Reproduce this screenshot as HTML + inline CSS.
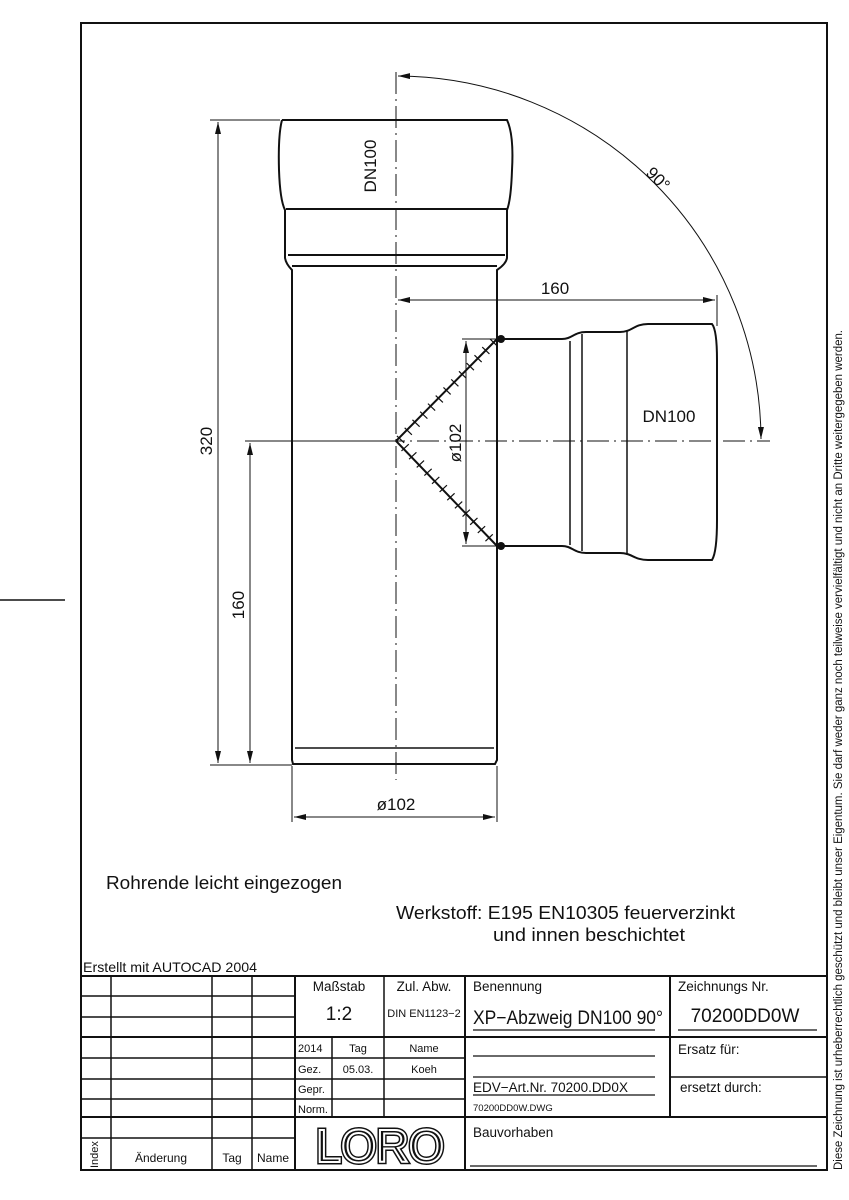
<!DOCTYPE html>
<html><head><meta charset="utf-8"><style>
html,body{margin:0;padding:0;background:#fff;}
svg{display:block;}
text{font-family:"Liberation Sans Narrow","Liberation Sans",sans-serif;fill:#111;}
</style></head><body>
<svg width="849" height="1200" viewBox="0 0 849 1200" xmlns="http://www.w3.org/2000/svg">
<defs>
<marker id="a" viewBox="0 0 12 6" refX="12" refY="3" markerWidth="12" markerHeight="6" orient="auto-start-reverse" markerUnits="userSpaceOnUse"><path d="M0,0 L12,3 L0,6 Z" fill="#111"/></marker>
</defs>
<!-- frame -->
<rect x="81" y="23" width="746" height="1147" fill="none" stroke="#111" stroke-width="2"/>
<line x1="0" y1="600" x2="65" y2="600" stroke="#111" stroke-width="1.5"/>
<text transform="translate(842,1170) rotate(-90)" font-size="11.5" textLength="840" lengthAdjust="spacingAndGlyphs">Diese Zeichnung ist urheberrechtlich geschützt und bleibt unser Eigentum. Sie darf weder ganz noch teilweise vervielfältigt und nicht an Dritte weitergegeben werden.</text>

<!-- center lines -->
<g stroke="#111" stroke-width="1" stroke-dasharray="22 5 2 5" fill="none">
<line x1="396" y1="72" x2="396" y2="780"/>
<line x1="383" y1="441" x2="770" y2="441"/>
</g>

<!-- main pipe -->
<g stroke="#111" stroke-width="2" fill="none">
<path d="M282,120 L507,120 Q514,135 512,170 Q511,200 507,210 L507,258 Q506,264 497,270 L497,760 L495,764 L293,764 L292,760 L292,270 Q286,264 285,258 L285,210 Q280,200 279,170 Q278,135 282,120"/>
<line x1="286" y1="209" x2="507" y2="209"/>
<line x1="288" y1="255" x2="505" y2="255"/>
<line x1="292" y1="266" x2="497" y2="266"/>
<line x1="295" y1="748" x2="494" y2="748" stroke-width="1.5"/>
<!-- branch -->
<path d="M497,339 L562,339 C572,339 574,332 586,332 L620,332 C632,332 634,324 648,324 L712,324 Q717,330 717,360 L717,520 Q717,552 712,560 L648,560 C634,560 632,553 620,553 L586,553 C574,553 572,546 562,546 L497,546"/>
<line x1="570" y1="341" x2="570" y2="545" stroke-width="1.5"/>
<line x1="582" y1="334" x2="582" y2="551" stroke-width="1.5"/>
<line x1="627" y1="330" x2="627" y2="555" stroke-width="1.5"/>
<path d="M497,339 L396,441 L497,546"/>
</g>
<g stroke="#111" fill="none" stroke-dasharray="1.2 10">
<path d="M494,342 L399,441 L494,543" stroke-width="10"/>
</g>
<circle cx="501" cy="339" r="4" fill="#111"/>
<circle cx="501" cy="546" r="4" fill="#111"/>

<!-- dimensions -->
<g stroke="#111" stroke-width="1" fill="none">
<line x1="210" y1="120" x2="280" y2="120"/>
<line x1="245" y1="441" x2="394" y2="441"/>
<line x1="210" y1="765" x2="292" y2="765"/>
<line x1="218" y1="122" x2="218" y2="763" marker-start="url(#a)" marker-end="url(#a)"/>
<line x1="250" y1="443" x2="250" y2="763" marker-start="url(#a)" marker-end="url(#a)"/>
<line x1="292" y1="766" x2="292" y2="822"/>
<line x1="497" y1="766" x2="497" y2="822"/>
<line x1="294" y1="817" x2="495" y2="817" marker-start="url(#a)" marker-end="url(#a)"/>
<line x1="717" y1="295" x2="717" y2="326"/>
<line x1="398" y1="300" x2="715" y2="300" marker-start="url(#a)" marker-end="url(#a)"/>
<line x1="462" y1="339" x2="497" y2="339"/>
<line x1="462" y1="546" x2="497" y2="546"/>
<line x1="466" y1="341" x2="466" y2="544" marker-start="url(#a)" marker-end="url(#a)"/>
<path d="M398,76 A365,365 0 0 1 761,439" marker-start="url(#a)" marker-end="url(#a)"/>
</g>
<g font-family="Liberation Sans" font-size="17">
<text transform="translate(212,441) rotate(-90)" text-anchor="middle">320</text>
<text transform="translate(244,605) rotate(-90)" text-anchor="middle">160</text>
<text x="396" y="810" text-anchor="middle">ø102</text>
<text x="555" y="294" text-anchor="middle">160</text>
<text transform="translate(461,443) rotate(-90)" text-anchor="middle">ø102</text>
<text transform="translate(376,166) rotate(-90)" text-anchor="middle">DN100</text>
<text x="669" y="422" text-anchor="middle">DN100</text>
<text transform="translate(654,183) rotate(45)" text-anchor="middle">90°</text>
</g>

<text x="106" y="889" font-size="18" textLength="236" lengthAdjust="spacingAndGlyphs">Rohrende leicht eingezogen</text>
<text x="396" y="919" font-size="18" textLength="339" lengthAdjust="spacingAndGlyphs">Werkstoff: E195 EN10305 feuerverzinkt</text>
<text x="493" y="941" font-size="18" textLength="192" lengthAdjust="spacingAndGlyphs">und innen beschichtet</text>
<text x="83" y="972" font-size="14" textLength="174" lengthAdjust="spacingAndGlyphs">Erstellt mit AUTOCAD 2004</text>

<!-- title block -->
<g stroke="#111" stroke-width="1.5" fill="none">
<line x1="81" y1="976" x2="827" y2="976" stroke-width="2"/>
<line x1="111" y1="976" x2="111" y2="1170"/>
<line x1="212" y1="976" x2="212" y2="1170"/>
<line x1="252" y1="976" x2="252" y2="1170"/>
<line x1="295" y1="976" x2="295" y2="1170" stroke-width="2"/>
<line x1="81" y1="996" x2="295" y2="996"/>
<line x1="81" y1="1017" x2="295" y2="1017"/>
<line x1="81" y1="1037" x2="465" y2="1037" stroke-width="2"/>
<line x1="81" y1="1058" x2="465" y2="1058"/>
<line x1="81" y1="1079" x2="465" y2="1079"/>
<line x1="81" y1="1099" x2="465" y2="1099"/>
<line x1="81" y1="1117" x2="828" y2="1117" stroke-width="2"/>
<line x1="81" y1="1138" x2="295" y2="1138"/>
<line x1="384" y1="976" x2="384" y2="1117"/>
<line x1="332" y1="1037" x2="332" y2="1117"/>
<line x1="465" y1="976" x2="465" y2="1170" stroke-width="2"/>
<line x1="670" y1="976" x2="670" y2="1117" stroke-width="2"/>
<line x1="465" y1="1037" x2="828" y2="1037" stroke-width="2"/>
<line x1="670" y1="1077" x2="828" y2="1077"/>
<line x1="473" y1="1030" x2="655" y2="1030" stroke-width="1.2"/>
<line x1="678" y1="1030" x2="817" y2="1030" stroke-width="1.2"/>
<line x1="473" y1="1056" x2="655" y2="1056" stroke-width="1.2"/>
<line x1="473" y1="1077" x2="655" y2="1077" stroke-width="1.2"/>
<line x1="473" y1="1095" x2="655" y2="1095" stroke-width="1.2"/>
<line x1="470" y1="1166" x2="817" y2="1166" stroke-width="1.2"/>
</g>
<g font-size="12.5">
<text x="339" y="991" text-anchor="middle" font-size="13.5">Maßstab</text>
<text x="339" y="1020" text-anchor="middle" font-size="19">1:2</text>
<text x="424" y="991" text-anchor="middle" font-size="13.5">Zul. Abw.</text>
<text x="424" y="1017" text-anchor="middle" font-size="11">DIN EN1123−2</text>
<text x="298" y="1052" font-size="11">2014</text>
<text x="358" y="1052" text-anchor="middle" font-size="11">Tag</text>
<text x="424" y="1052" text-anchor="middle" font-size="11">Name</text>
<text x="298" y="1073" font-size="11">Gez.</text>
<text x="358" y="1073" text-anchor="middle" font-size="11">05.03.</text>
<text x="424" y="1073" text-anchor="middle" font-size="11">Koeh</text>
<text x="298" y="1093" font-size="11">Gepr.</text>
<text x="298" y="1113" font-size="11">Norm.</text>
<text transform="translate(98,1168) rotate(-90)" font-size="11">Index</text>
<text x="161" y="1162" text-anchor="middle" font-size="12">Änderung</text>
<text x="232" y="1162" text-anchor="middle" font-size="12">Tag</text>
<text x="273" y="1162" text-anchor="middle" font-size="12">Name</text>
<text x="473" y="991" font-size="13.5">Benennung</text>
<text x="473" y="1024" font-size="19" textLength="190" lengthAdjust="spacingAndGlyphs">XP−Abzweig DN100 90°</text>
<text x="678" y="991" font-size="13.5">Zeichnungs Nr.</text>
<text x="745" y="1022" text-anchor="middle" font-size="19">70200DD0W</text>
<text x="678" y="1054" font-size="13.5">Ersatz für:</text>
<text x="680" y="1092" font-size="13.5">ersetzt durch:</text>
<text x="473" y="1092" font-size="13.5">EDV−Art.Nr. 70200.DD0X</text>
<text x="473" y="1111" font-size="9.5">70200DD0W.DWG</text>
<text x="473" y="1137" font-size="13.5">Bauvorhaben</text>
</g>
<!-- LORO logo -->
<text x="380" y="1162" text-anchor="middle" font-family="Liberation Sans" font-size="46" fill="none" stroke="#111" stroke-width="5" textLength="128" lengthAdjust="spacingAndGlyphs">LORO</text>
<text x="380" y="1162" text-anchor="middle" font-family="Liberation Sans" font-size="46" fill="none" stroke="#fff" stroke-width="2" textLength="128" lengthAdjust="spacingAndGlyphs">LORO</text>
</svg>
</body></html>
